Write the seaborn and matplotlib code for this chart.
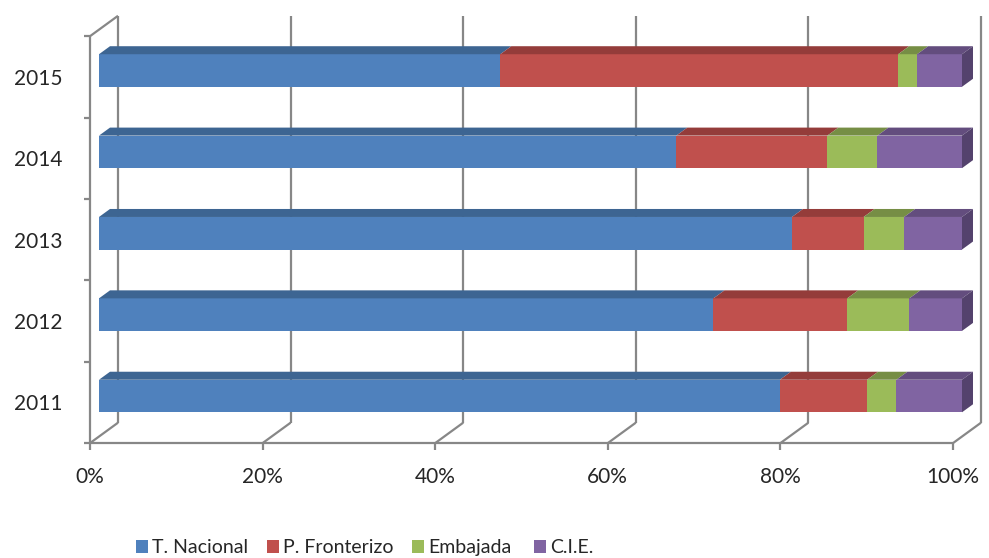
import numpy as np
import matplotlib
matplotlib.use("Agg")
import matplotlib.pyplot as plt
import matplotlib.transforms as mtransforms
from matplotlib.patches import Rectangle
import seaborn as sns

# data (percent of each year)
years = ["2011", "2012", "2013", "2014", "2015"]
nacional = [78.9, 71.2, 80.3, 66.9, 46.5]
fronterizo = [10.1, 15.5, 8.3, 17.5, 46.1]
embajada = [3.4, 7.2, 4.7, 5.8, 2.2]
cie = [7.6, 6.1, 6.7, 9.8, 5.2]
names = ["T. Nacional", "P. Fronterizo", "Embajada", "C.I.E."]
xticks = [0, 20, 40, 60, 80, 100]

colors = ["#4F81BD", "#C0504D", "#9BBB59", "#8064A2"]
tops = ["#3D6592", "#943C3A", "#768E45", "#634D7E"]
side = "#54426D"
gridc = "#878787"

sns.set_style("white")
plt.rcParams["font.family"] = ["Lato", "DejaVu Sans"]

W, H = 989, 558
fig = plt.figure(figsize=(W / 100, H / 100), dpi=100)
ax = fig.add_axes([99 / W, (H - 436.7) / H, 863 / W, 406.9 / H])

pxx = 863 / 100.0   # pixels per percent
pxy = 406.9 / 5.0   # pixels per category slot

order = years[::-1]
series = [nacional, fronterizo, embajada, cie]
cum = np.cumsum(series, axis=0)

# stacked bars: draw the totals first, then cover them
for k in reversed(range(4)):
    sns.barplot(x=cum[k], y=years, order=order, orient="h", color=colors[k],
                saturation=1, width=0.4, linewidth=0, ax=ax, zorder=3)

# plane offsets (front wall, back wall, bar depth) in data units
fx, fy = -9 / pxx, 6.4 / pxy
bx, by = 19 / pxx, -14 / pxy
dx, dy = 11 / pxx, -8 / pxy

lk = dict(color=gridc, lw=1.6, clip_on=False, zorder=1, solid_capstyle="butt")
for v in xticks:
    ax.plot([v + bx, v + bx], [-0.5 + by, 4.5 + by], **lk)
    ax.plot([v + bx, v + fx], [4.5 + by, 4.5 + fy], **lk)
    ax.plot([v + fx, v + fx], [4.5 + fy, 4.5 + fy + 7 / pxy], **lk)
ax.plot([fx, 100 + fx], [4.5 + fy, 4.5 + fy], **lk)
ax.plot([fx, fx], [-0.5 + fy, 4.5 + fy], **lk)
ax.plot([fx, bx], [-0.5 + fy, -0.5 + by], **lk)
for b in np.arange(-0.5, 5, 1.0):
    ax.plot([fx - 6 / pxx, fx], [b + fy, b + fy], **lk)

# 3d faces of the bars
for i, yr in enumerate(order):
    j = years.index(yr)
    t = i - 0.2
    left = 0.0
    for k in range(4):
        right = cum[k][j]
        ax.fill([left, right, right + dx, left + dx], [t, t, t + dy, t + dy],
                color=tops[k], lw=0, clip_on=False, zorder=4)
        left = right
    ax.fill([100, 100, 100 + dx, 100 + dx], [t, t + 0.4, t + 0.4 + dy, t + dy],
            color=side, lw=0, clip_on=False, zorder=4)

ax.set_xticks(xticks)
ax.set_xticklabels([f"{v}%" for v in xticks])
ax.set_yticks([i + fy for i in range(5)])
ax.set_yticklabels(order)
ax.set_xlim(0, 100)
ax.set_ylim(4.5, -0.5)
ax.tick_params(axis="x", length=0, pad=22, labelsize=15)
ax.tick_params(axis="y", length=0, pad=26, labelsize=15)
# x labels sit on the front plane, 9 px left of the bar plane
shift = mtransforms.ScaledTranslation(-9 / 100, 0, fig.dpi_scale_trans)
for lab in ax.get_xticklabels():
    lab.set_transform(lab.get_transform() + shift)
ax.set_xlabel("")
ax.set_ylabel("")
sns.despine(ax=ax, left=True, bottom=True)
ax.grid(False)

# legend row at the bottom, all labels on one baseline
leg_x = [136, 267, 412, 534]
base = 553
for x0, n, c in zip(leg_x, names, colors):
    fig.patches.append(Rectangle((x0 / W, (H - base) / H), 12 / W, 13 / H,
                                 transform=fig.transFigure, color=c, lw=0))
    fig.text((x0 + 16) / W, (H - base) / H, n, fontsize=14, va="baseline", ha="left")

fig.savefig("out.png", dpi=100)
